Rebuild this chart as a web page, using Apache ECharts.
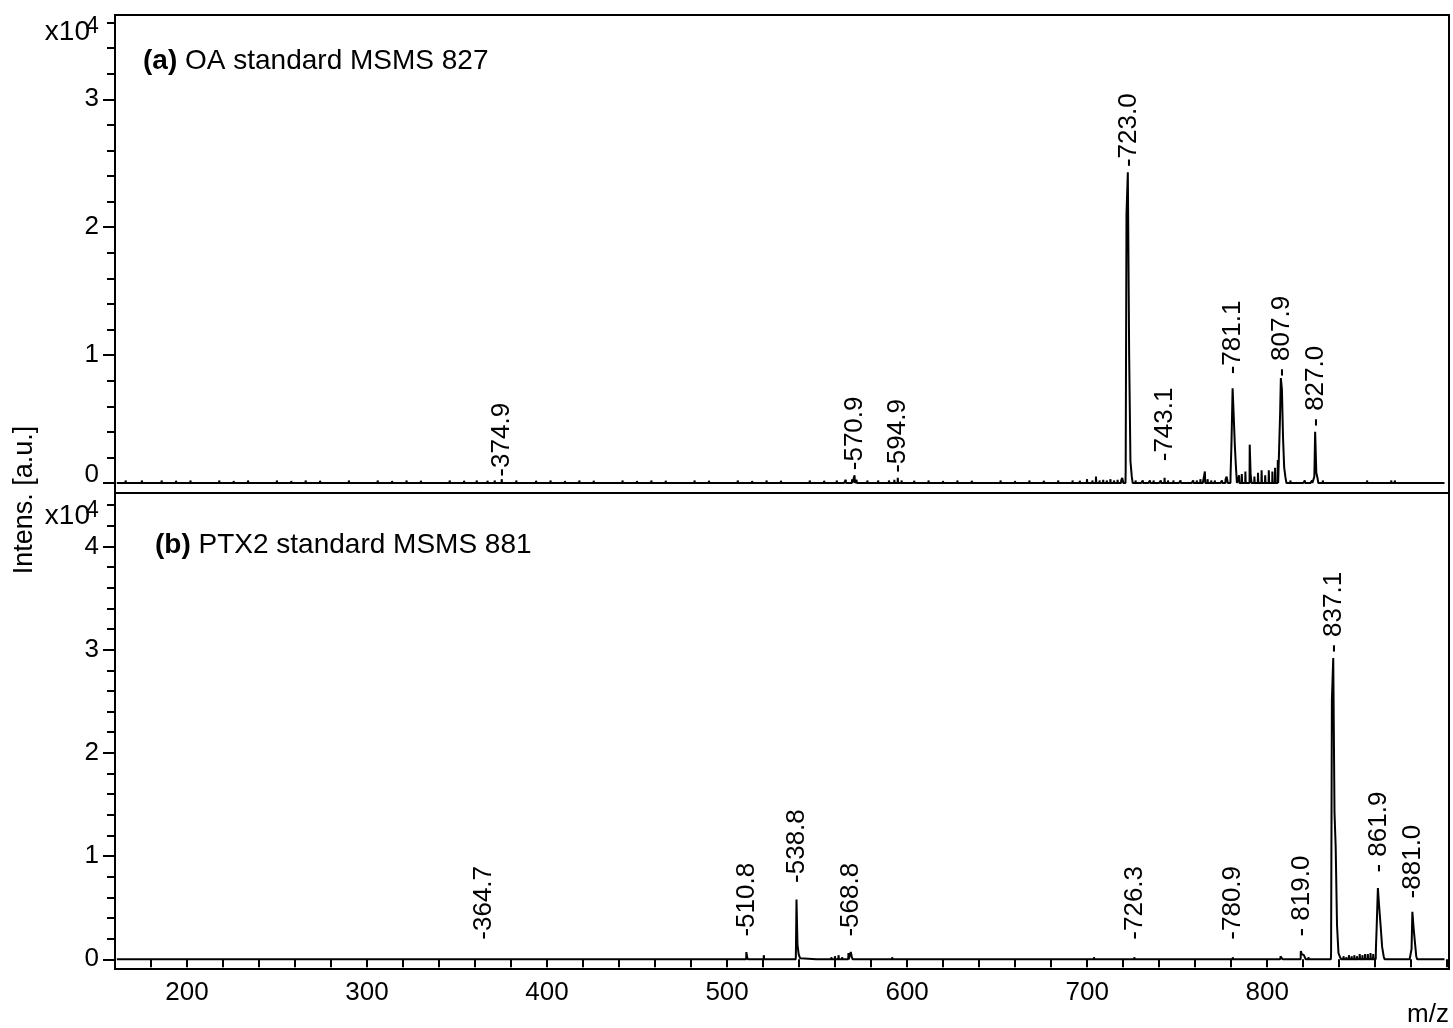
<!DOCTYPE html>
<html>
<head>
<meta charset="utf-8">
<script src="https://cdn.jsdelivr.net/npm/echarts@6/dist/echarts.min.js"></script>
<style>html,body{margin:0;padding:0;background:#fff}#c{width:1453px;height:1028px}</style>
</head>
<body>
<div id="c"></div>
<script>
// ---------- DATA ----------
const xTickLabels = [200, 300, 400, 500, 600, 700, 800];
const yMajorA = [0, 1, 2, 3];
const yMajorB = [0, 1, 2, 3, 4];

// panel (a) spectrum: [m/z, intensity x10^4]
const spectrumA = [
[162,0.012],[166,0.02],[169,0.01],[172,0.015],[175,0.02],[179,0.01],[182,0.015],[186,0.02],[190,0.012],[194,0.018],
[198,0.01],[202,0.02],[206,0.012],[210,0.015],[214,0.01],[218,0.02],[222,0.012],[226,0.016],[230,0.01],[234,0.02],
[238,0.012],[242,0.015],[246,0.01],[250,0.02],[254,0.012],[258,0.016],[262,0.01],[266,0.02],[270,0.012],[274,0.018],
[278,0.01],[282,0.015],[286,0.012],[290,0.02],[294,0.01],[298,0.015],[302,0.012],[306,0.02],[310,0.01],[314,0.016],
[318,0.012],[322,0.02],[326,0.01],[330,0.018],[334,0.012],[338,0.015],[342,0.01],[346,0.02],[350,0.012],[354,0.018],
[358,0.01],[361,0.02],[364,0.012],[367,0.018],[371,0.02],[374.9,0.03],[377,0.015],[380,0.012],[383,0.02],[386,0.015],
[390,0.01],[394,0.018],[398,0.012],[402,0.02],[406,0.01],[410,0.016],[414,0.012],[418,0.02],[422,0.01],[426,0.018],
[430,0.012],[434,0.015],[438,0.01],[442,0.02],[446,0.012],[450,0.016],[454,0.01],[458,0.02],[462,0.012],[466,0.018],
[470,0.01],[474,0.015],[478,0.012],[482,0.02],[486,0.01],[490,0.018],[494,0.012],[498,0.015],[502,0.01],[506,0.02],
[510,0.012],[514,0.016],[518,0.01],[522,0.02],[526,0.012],[530,0.018],[534,0.01],[538,0.015],[542,0.012],[546,0.02],
[550,0.01],[554,0.018],[558,0.012],[561,0.02],[564,0.015],[566,0.025],[569.5,0.03],[570.9,0.06],[572,0.025],[575,0.015],
[578,0.02],[581,0.012],[584,0.02],[587,0.015],[590,0.02],[593,0.025],[594.9,0.04],[597,0.02],[600,0.012],[604,0.018],
[608,0.01],[612,0.02],[616,0.012],[620,0.016],[624,0.01],[628,0.02],[632,0.012],[636,0.018],[640,0.01],[644,0.015],
[648,0.012],[652,0.02],[656,0.01],[660,0.016],[664,0.012],[668,0.02],[672,0.01],[676,0.018],[680,0.012],[684,0.02],
[688,0.015],[692,0.02],[696,0.018],[700,0.03],[703,0.02],[705,0.05],[707,0.02],[709,0.025],[711,0.02],[713,0.03],
[715,0.02],[717,0.025],[719,0.02],[720,0.04],
[721.5,0.1],[722.2,2.10],[723.0,2.43],[723.7,0.98],[724.4,0.17],[725.2,0.05],
[727,0.02],[729,0.015],[731,0.02],[733,0.01],[735,0.02],[737,0.02],[739,0.015],[741,0.02],[743.1,0.04],[745,0.02],
[748,0.02],[750,0.015],[752,0.02],[754,0.01],[757,0.015],[759,0.02],[761,0.02],[763,0.03],[765.5,0.09],[767,0.03],
[769,0.02],[771,0.02],[773,0.015],[775,0.02],[777,0.03],[778,0.05],[779.8,0.08],[780.5,0.3],[781.1,0.74],[781.7,0.53],
[782.4,0.29],[783.1,0.1],[784.5,0.06],[786,0.07],[788,0.09],[790.4,0.30],[791.2,0.07],[793,0.05],[795,0.08],[797,0.1],
[799,0.06],[801,0.1],[803,0.09],[804.5,0.12],[806,0.18],[807.3,0.55],[807.9,0.82],[808.5,0.73],[809.1,0.36],[809.8,0.12],
[810.6,0.04],[813,0.02],[815,0.015],[817,0.01],[819,0.015],[821,0.02],[823,0.015],[825,0.02],[826.3,0.05],[827.0,0.40],
[827.6,0.08],[828.3,0.04],[831,0.02],[836,0.01],[842,0.01],[848,0.01],[855.6,0.02],[862,0.01],[869,0.02],[871,0.02],
[878,0.01],[886,0.01],[893,0.01]
];

// panel (b) spectrum
const spectrumB = [
[306.5,0.01],[364.7,0.012],[391.8,0.012],[510.8,0.07],[511.5,0.02],[520.5,0.04],[538.3,0.03],[538.8,0.58],[539.4,0.14],
[540.1,0.05],[541,0.01],[558,0.02],[560,0.03],[562,0.04],[564,0.02],[567.5,0.06],[568.8,0.07],[569.6,0.03],[591.8,0.02],
[698,0.015],[703.9,0.02],[726.3,0.02],[781,0.02],[807.5,0.03],[808.5,0.02],[818.8,0.08],[819.6,0.05],[820.4,0.04],
[821.3,0.03],[823,0.02],[835.6,0.08],[836.3,2.51],[837.1,2.92],[837.7,1.42],[838.4,1.09],[839.2,0.33],[840,0.06],
[841,0.02],[842.5,0.03],[844,0.02],[845.5,0.04],[847,0.03],[848.5,0.04],[850,0.03],[851.5,0.05],[853,0.04],[854.5,0.05],
[856,0.05],[857.5,0.06],[859,0.05],[860.5,0.1],[861.1,0.3],[861.9,0.69],[862.6,0.5],[863.4,0.33],[864.3,0.12],[865.1,0.03],
[878,0.01],[880.3,0.1],[881.0,0.46],[881.7,0.30],[882.4,0.17],[883.2,0.03],[890,0.01]
];

// peak annotations: text, m/z, label level (x10^4)
const annotTextA = ['-374.9','-570.9','-594.9','-723.0','-743.1','-781.1','- 807.9','- 827.0'];
const annotMzA = [374.9, 570.9, 594.9, 723.0, 743.1, 781.1, 807.9, 827.0];
const annotLevelA = [0.05, 0.10, 0.08, 2.47, 0.17, 0.85, 0.83, 0.44];

const annotTextB = ['-364.7','-510.8','-538.8','-568.8','-726.3','-780.9','- 819.0','- 837.1','- 861.9','-881.0'];
const annotMzB = [364.7, 510.8, 538.8, 568.8, 726.3, 780.9, 819.0, 837.1, 861.9, 881.0];
const annotLevelB = [0.19, 0.22, 0.74, 0.22, 0.19, 0.19, 0.22, 2.97, 0.84, 0.59];

const titleA = ['(a)', ' OA standard MSMS 827'];
const titleB = ['(b)', ' PTX2 standard MSMS 881'];
const yName = 'Intens. [a.u.]';
const xName = 'm/z';
const scaleText = ['x10', '4'];

// ---------- BUILD ----------
const FONT = '"Liberation Sans", Arial, Helvetica, sans-serif';
const FS = 26;
const X_MIN = 160, X_MAX = 901;
const HW = 0.2;

function profile(pts, start, end) {
  const out = [[start, 0]];
  let last = null;
  for (const [m, h] of pts) {
    if (last === null || m - last > 1.0) {
      if (last !== null) out.push([last + HW, 0]);
      out.push([m - HW, 0]);
    }
    out.push([m, h]);
    last = m;
  }
  out.push([last + HW, 0]);
  out.push([end, 0]);
  return out;
}
function minorTicks(maxV) {
  const r = [];
  for (let i = 0; i <= Math.round(maxV / 0.2); i++) r.push(+(i * 0.2).toFixed(1));
  return r;
}

const axisTxt = { color: '#000', fontFamily: FONT, fontSize: FS };

function yAxes(gi, min, max, majors, minMax, shiftZero) {
  return [
    {
      type: 'value', gridIndex: gi, min: min, max: max, position: 'left',
      axisLine: { show: false }, splitLine: { show: false },
      axisTick: { show: true, customValues: majors, length: 12, lineStyle: { color: '#000', width: 2 } },
      axisLabel: Object.assign({}, axisTxt, {
        customValues: majors, margin: 16,
        formatter: v => (shiftZero && v === 0) ? '{z|0}' : String(v),
        rich: { z: { fontFamily: FONT, fontSize: FS, color: '#000', padding: [0, 0, 16, 0] } }
      })
    },
    {
      type: 'value', gridIndex: gi, min: min, max: max, position: 'left',
      axisLine: { show: false }, splitLine: { show: false },
      axisTick: { show: true, customValues: minorTicks(minMax), length: 8, lineStyle: { color: '#000', width: 2 } },
      axisLabel: { show: false }
    }
  ];
}

function labelSeries(xi, yi, texts, mzs, levels) {
  return {
    type: 'custom', xAxisIndex: xi, yAxisIndex: yi, silent: true, z: 5,
    data: mzs.map((m, i) => [m, levels[i]]),
    renderItem: function (params, api) {
      const p = api.coord([api.value(0), api.value(1)]);
      return {
        type: 'text', x: p[0], y: p[1], rotation: Math.PI / 2,
        style: {
          text: texts[params.dataIndex], fill: '#000',
          font: FS + 'px ' + FONT,
          textAlign: 'left', textVerticalAlign: 'middle',
          align: 'left', verticalAlign: 'middle'
        }
      };
    }
  };
}

const chart = echarts.init(document.getElementById('c'), null, { renderer: 'canvas' });
const TFS = 28;
const option = {
  animation: false,
  backgroundColor: '#fff',
  grid: [
    { left: 115, right: 4, top: 15, height: 478, show: true, borderColor: '#000', borderWidth: 2, backgroundColor: 'transparent' },
    { left: 115, right: 4, top: 493, height: 476, show: true, borderColor: '#000', borderWidth: 2, backgroundColor: 'transparent' }
  ],
  xAxis: [
    { type: 'value', gridIndex: 0, min: X_MIN, max: X_MAX, show: false, splitLine: { show: false } },
    {
      type: 'value', gridIndex: 1, min: X_MIN, max: X_MAX, interval: 20,
      axisLine: { show: false }, splitLine: { show: false },
      axisTick: { show: true, length: 8, lineStyle: { color: '#000', width: 2 } },
      axisLabel: Object.assign({}, axisTxt, {
        interval: 0, margin: 11,
        formatter: v => xTickLabels.indexOf(v) >= 0 ? String(v) : ''
      })
    }
  ],
  yAxis: [].concat(
    yAxes(0, -0.078, 3.659, yMajorA, 3.6, true),
    yAxes(1, -0.094, 4.518, yMajorB, 4.4, false)
  ),
  series: [
    {
      type: 'line', xAxisIndex: 0, yAxisIndex: 0, data: profile(spectrumA, 161, 898.5), step: 'middle',
      showSymbol: false, symbol: 'none', lineStyle: { color: '#000', width: 2 }, silent: true, clip: true
    },
    {
      type: 'line', xAxisIndex: 1, yAxisIndex: 2, data: profile(spectrumB, 161, 898.5), step: 'middle',
      showSymbol: false, symbol: 'none', lineStyle: { color: '#000', width: 2 }, silent: true, clip: true
    },
    labelSeries(0, 0, annotTextA, annotMzA, annotLevelA),
    labelSeries(1, 2, annotTextB, annotMzB, annotLevelB)
  ],
  graphic: [
    { type: 'text', x: 90, y: 32, style: { text: scaleText[0], fill: '#000', font: '28px ' + FONT, textAlign: 'right', textVerticalAlign: 'middle' } },
    { type: 'text', x: 86, y: 27, style: { text: scaleText[1], fill: '#000', font: '23px ' + FONT, textAlign: 'left', textVerticalAlign: 'middle' } },
    { type: 'text', x: 90, y: 516, style: { text: scaleText[0], fill: '#000', font: '28px ' + FONT, textAlign: 'right', textVerticalAlign: 'middle' } },
    { type: 'text', x: 86, y: 511, style: { text: scaleText[1], fill: '#000', font: '23px ' + FONT, textAlign: 'left', textVerticalAlign: 'middle' } },
    { type: 'text', x: 25, y: 500, rotation: Math.PI / 2, style: { text: yName, fill: '#000', font: '27px ' + FONT, textAlign: 'center', textVerticalAlign: 'middle' } },
    { type: 'text', x: 1428, y: 1015, style: { text: xName, fill: '#000', font: FS + 'px ' + FONT, textAlign: 'center', textVerticalAlign: 'middle' } },
    { type: 'text', x: 143, y: 61, style: { text: '{b|' + titleA[0] + '}' + titleA[1], fill: '#000', font: TFS + 'px ' + FONT, textVerticalAlign: 'middle', rich: { b: { fontWeight: 'bold', fontSize: TFS, fontFamily: FONT } } } },
    { type: 'text', x: 155, y: 545, style: { text: '{b|' + titleB[0] + '}' + titleB[1], fill: '#000', font: TFS + 'px ' + FONT, textVerticalAlign: 'middle', rich: { b: { fontWeight: 'bold', fontSize: TFS, fontFamily: FONT } } } }
  ]
};
chart.setOption(option);
</script>
</body>
</html>
